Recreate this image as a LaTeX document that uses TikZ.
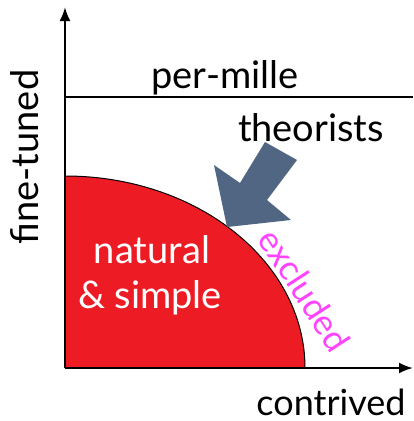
\documentclass[tikz,border=0pt]{standalone}
\usepackage{fontspec}
\setmainfont{Lato}
\usetikzlibrary{arrows.meta}
\definecolor{redfill}{HTML}{ED1C24}
\definecolor{arrowblue}{HTML}{506683}
\definecolor{magtext}{HTML}{FF44FF}
\begin{document}
\begin{tikzpicture}[x=1pt,y=-1pt,
  axis/.style={line width=2.2pt,-{Latex[length=14pt,width=11pt]}},
  lbl/.style={font=\fontsize{38}{40}\selectfont,inner sep=0pt}]
\useasboundingbox (0,0) rectangle (413,421);
% red region
\fill[redfill] (65,368) -- (305,368) arc[start angle=0,end angle=-90,x radius=240,y radius=192] -- cycle;
\draw[line width=1pt] (305,368) arc[start angle=0,end angle=-90,x radius=240,y radius=192];
% per-mille line
\draw[line width=1.2pt] (65,97) -- (413,97);
% axes
\coordinate (o) at (65,368);
\coordinate (xe) at (413,368);
\coordinate (ye) at (65,7);
\draw[axis] (o) -- (xe);
\draw[axis] (o) -- (ye);
% arrow
\fill[arrowblue] (265,142) -- (297,160) -- (267,200) -- (291,220) -- (227,227) -- (214,165) -- (240,183) -- cycle;
% labels
\node[lbl] (pm) at (225,78) {per-mille};
\node[lbl] (th) at (311,128) {theorists};
\node[lbl,rotate=90] (ft) at (25,157) {fine-tuned};
\node[lbl,text=white] (na) at (152,250) {natural};
\node[lbl,text=white] (si) at (150,298) {\& simple};
\node[lbl,font=\fontsize{36}{40}\selectfont] (co) at (331,402) {contrived};
\node[inner sep=0pt,text=magtext,rotate=-57,font=\fontsize{35}{36}\selectfont] (ex) at (305,290) {excluded};
\end{tikzpicture}
\end{document}
